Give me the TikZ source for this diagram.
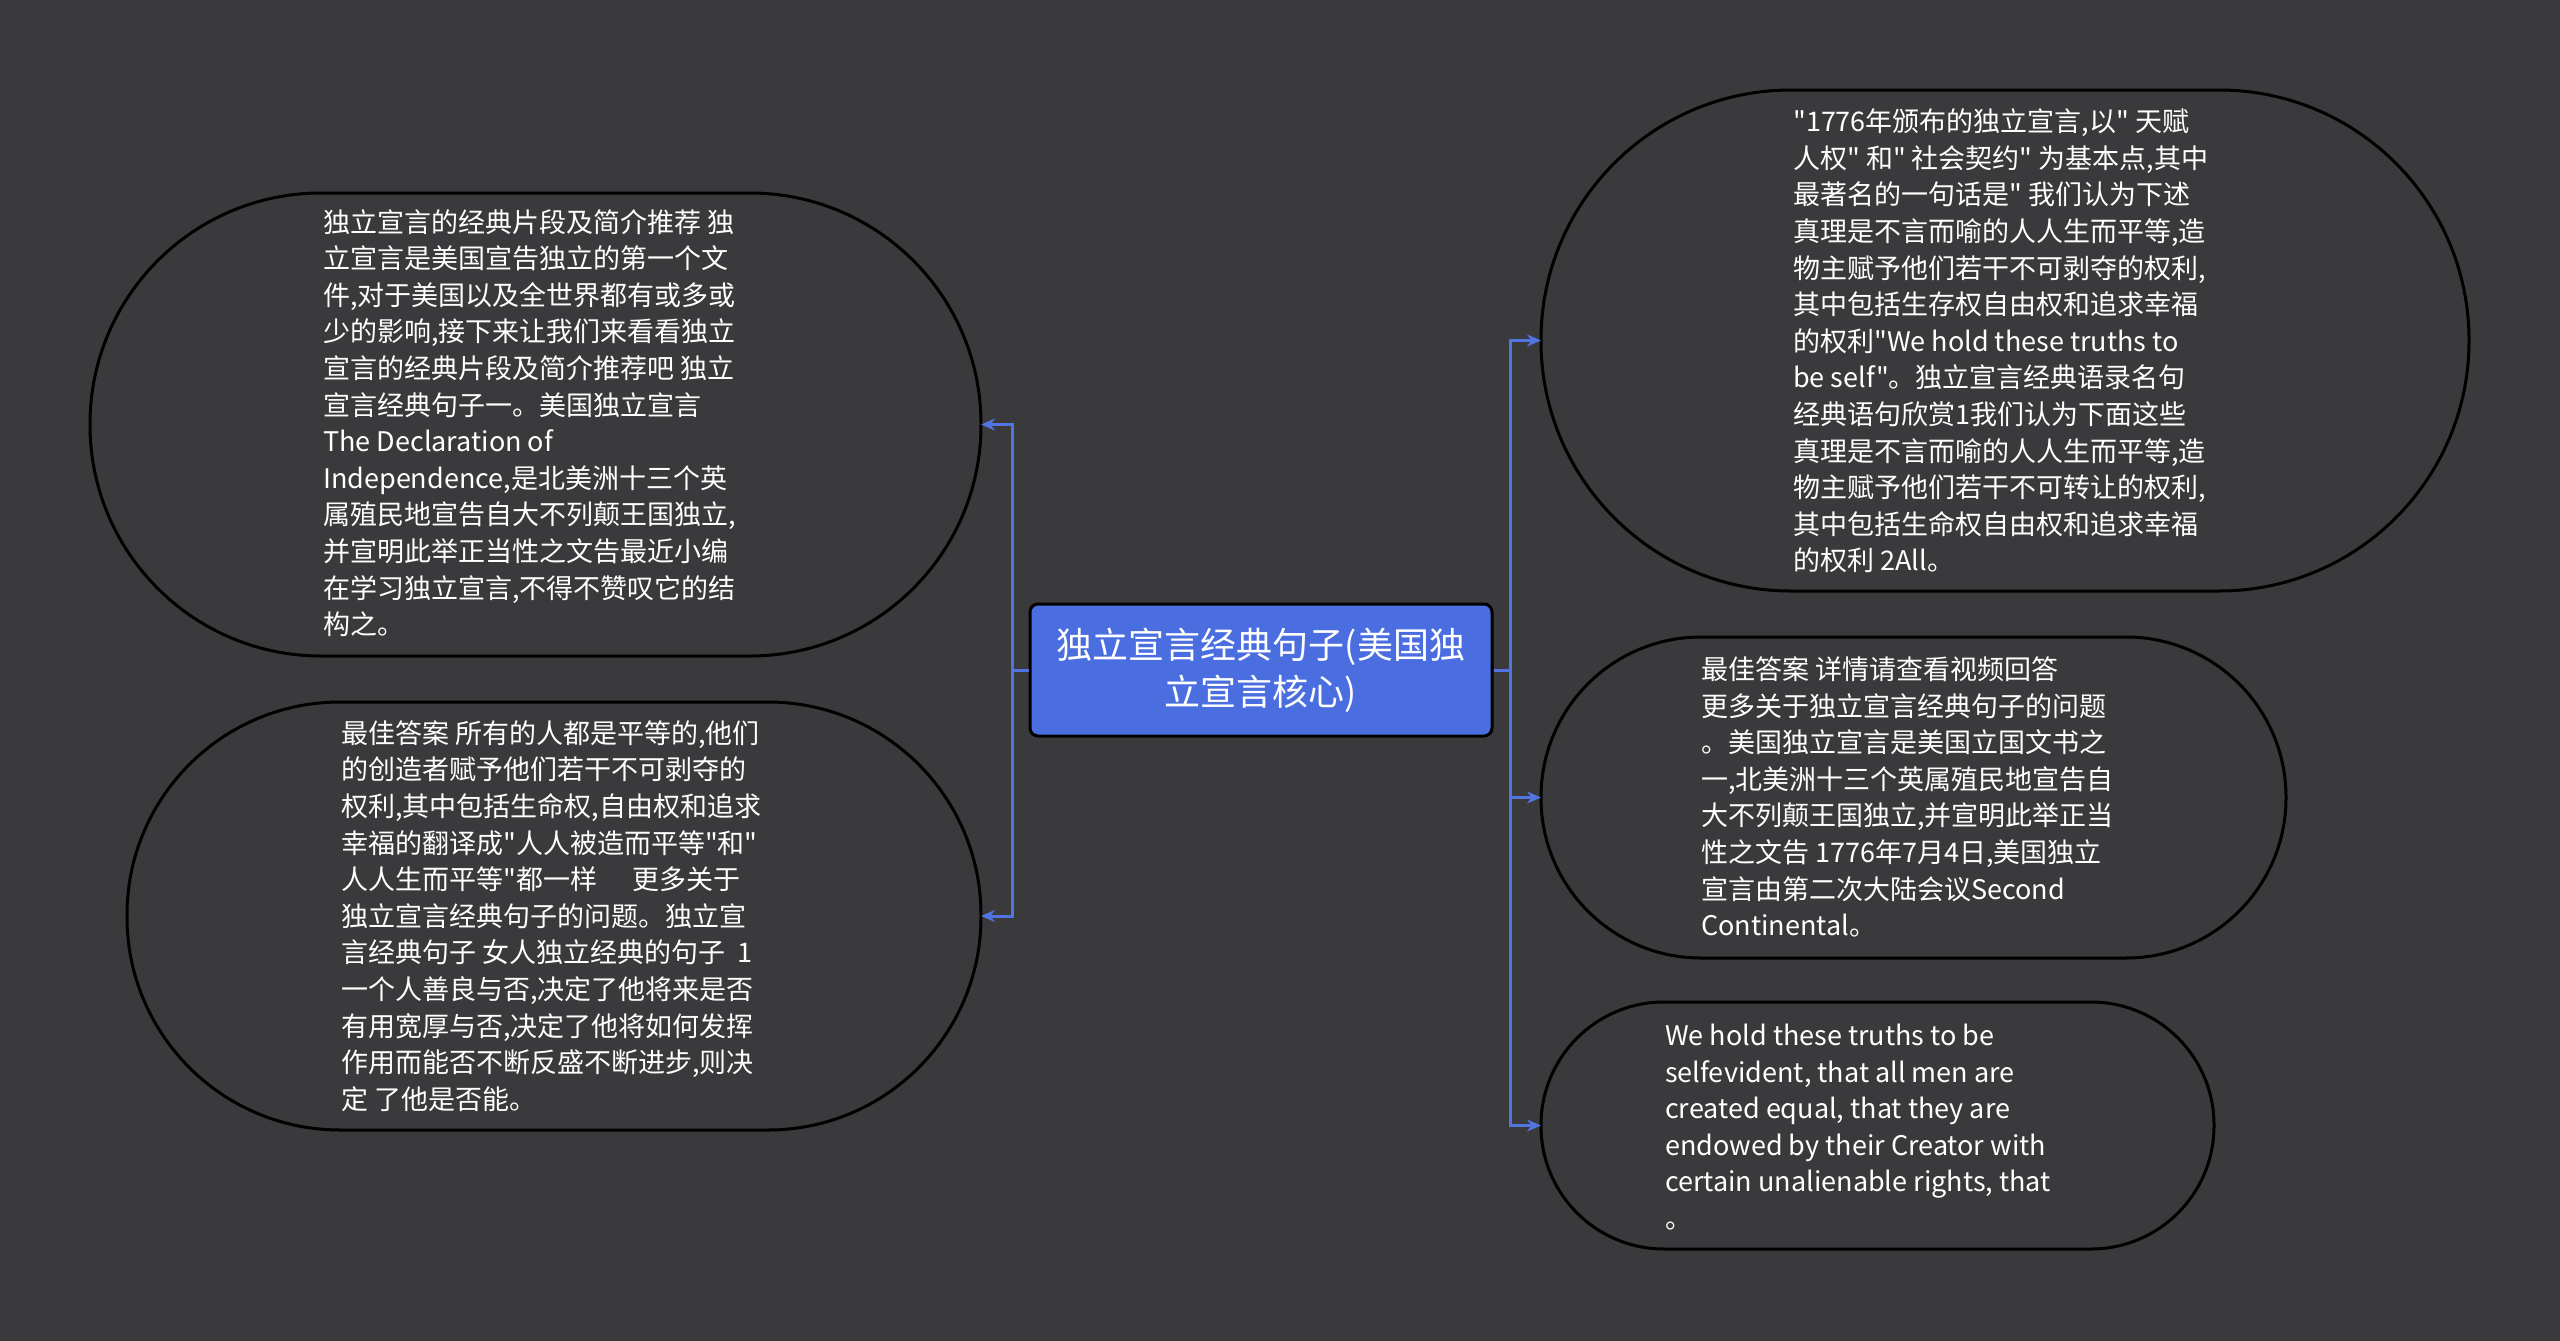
\documentclass[tikz,border=0pt]{standalone}
\usepackage{fontspec}
\setmainfont{Noto Sans CJK SC}[Ligatures=TeXOff]
\usetikzlibrary{arrows.meta}
\definecolor{bg}{HTML}{3A393B}
\definecolor{mainblue}{HTML}{4A6EE0}
\definecolor{connblue}{HTML}{5274E0}
\tikzset{
  bubble/.style={draw=black, line width=3pt, fill=bg, inner sep=0pt, outer sep=0pt},
  bubbletext/.style={text=white, align=left, anchor=west, inner sep=0pt, font=\fontsize{27pt}{36.6pt}\selectfont},
  centerbox/.style={draw=black, line width=3pt, fill=mainblue, rounded corners=8pt, minimum width=462pt, minimum height=132pt, text=white, align=center, font=\fontsize{36pt}{47pt}\selectfont, inner sep=0pt},
  conn/.style={draw=connblue, line width=3pt, -{Stealth[length=14pt,width=12pt]}},
  connplain/.style={draw=connblue, line width=3pt}
}
\begin{document}
\begin{tikzpicture}[x=1pt,y=-1pt]
\fill[bg] (0,0) rectangle (2560,1341);
\useasboundingbox (0,0) rectangle (2560,1341);

% bubbles
\node[bubble, minimum width=891pt, minimum height=463pt, rounded corners=231pt] (lt) at (535.5,424.5) {};
\node[bubble, minimum width=854pt, minimum height=428pt, rounded corners=213pt] (lb) at (554,916) {};
\node[bubble, minimum width=928pt, minimum height=501pt, rounded corners=250pt] (rt) at (2005,340.5) {};
\node[bubble, minimum width=745pt, minimum height=321pt, rounded corners=160pt] (rm) at (1913.5,797.5) {};
\node[bubble, minimum width=673pt, minimum height=247pt, rounded corners=123pt] (rb) at (1877.5,1125.5) {};

% central node
\node[centerbox] (c) at (1261,670) {独立宣言经典句子(美国独\\立宣言核心)};

% connectors
\coordinate (lj) at (1012,670);
\coordinate (rj) at (1510,670);
\draw[connplain] (c.west) -- (lj);
\draw[connplain] (c.east) -- (rj);
\draw[conn] (lj) |- (lt.east);
\draw[conn] (lj) |- (lb.east);
\draw[conn] (rj) |- (rt.west);
\draw[conn] (rj) |- (rm.west);
\draw[conn] (rj) |- (rb.west);

% texts
\node[bubbletext] (ltt) at (323,423) {独立宣言的经典片段及简介推荐 独\\立宣言是美国宣告独立的第一个文\\件,对于美国以及全世界都有或多或\\少的影响,接下来让我们来看看独立\\宣言的经典片段及简介推荐吧 独立\\宣言经典句子一。美国独立宣言\\The Declaration of\\Independence,是北美洲十三个英\\属殖民地宣告自大不列颠王国独立,\\并宣明此举正当性之文告最近小编\\在学习独立宣言,不得不赞叹它的结\\构之。};

\node[bubbletext] (lbt) at (341,916) {最佳答案 所有的人都是平等的,他们\\的创造者赋予他们若干不可剥夺的\\权利,其中包括生命权,自由权和追求\\幸福的翻译成"人人被造而平等"和"\\人人生而平等"都一样\hspace{1.3em}更多关于\\独立宣言经典句子的问题。独立宣\\言经典句子 女人独立经典的句子\ \ 1\\一个人善良与否,决定了他将来是否\\有用宽厚与否,决定了他将如何发挥\\作用而能否不断反盛不断进步,则决\\定 了他是否能。};

\node[bubbletext] (rtt) at (1793,341) {"1776年颁布的独立宣言,以" 天赋\\人权" 和" 社会契约" 为基本点,其中\\最著名的一句话是" 我们认为下述\\真理是不言而喻的人人生而平等,造\\物主赋予他们若干不可剥夺的权利,\\其中包括生存权自由权和追求幸福\\的权利"We hold these truths to\\be self"。独立宣言经典语录名句\\经典语句欣赏1我们认为下面这些\\真理是不言而喻的人人生而平等,造\\物主赋予他们若干不可转让的权利,\\其中包括生命权自由权和追求幸福\\的权利 2All。};

\node[bubbletext] (rmt) at (1701,797) {最佳答案 详情请查看视频回答\\更多关于独立宣言经典句子的问题\\。美国独立宣言是美国立国文书之\\一,北美洲十三个英属殖民地宣告自\\大不列颠王国独立,并宣明此举正当\\性之文告 1776年7月4日,美国独立\\宣言由第二次大陆会议Second\\Continental。};

\node[bubbletext] (rbt) at (1665,1127) {We hold these truths to be\\selfevident, that all men are\\created equal, that they are\\endowed by their Creator with\\certain unalienable rights, that\\。};
\end{tikzpicture}
\end{document}
